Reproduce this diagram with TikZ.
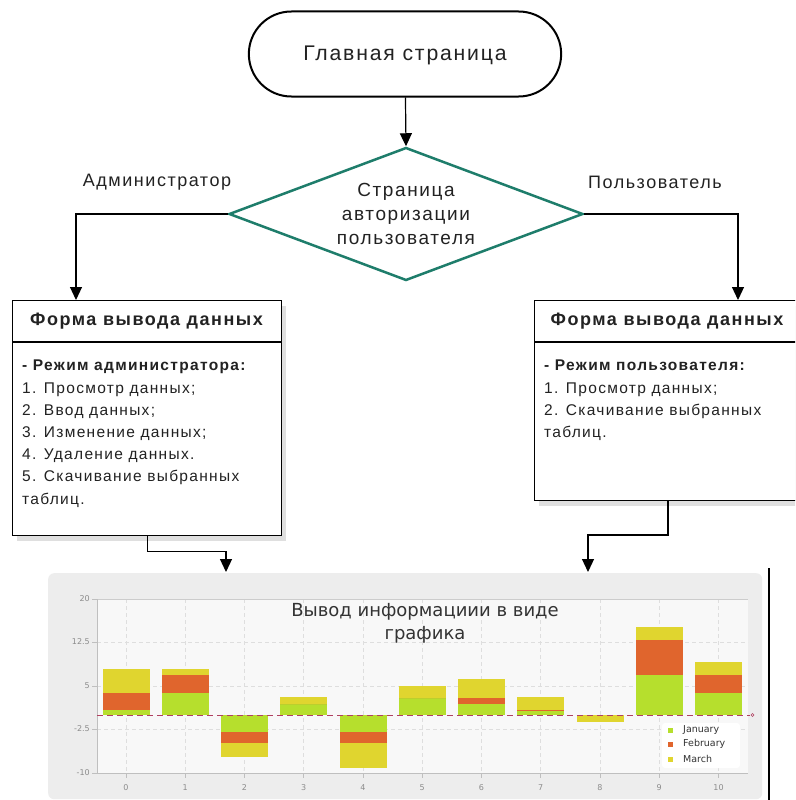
\documentclass[tikz,border=0pt]{standalone}
\usepackage{fontspec}
\setmainfont[LetterSpace=8.5]{Liberation Sans}
\newfontfamily\chartfont{DejaVu Sans}
\usetikzlibrary{arrows.meta,shapes.geometric,shapes.misc,shadows,calc}
\definecolor{tealc}{HTML}{1E7D6B}
\definecolor{jan}{HTML}{B6DF2D}
\definecolor{feb}{HTML}{E0652D}
\definecolor{mar}{HTML}{E0D52F}
\definecolor{chartbg}{HTML}{EDEDED}
\definecolor{plotbg}{HTML}{F8F8F8}
\definecolor{zeroc}{HTML}{B04060}
\definecolor{txt}{HTML}{222222}
\tikzset{
  arr/.style={line width=1.2pt,-{Triangle[width=12pt,length=13pt]}},
  formbox/.style={draw,line width=1.4pt,fill=white,rectangle,anchor=north west,
    drop shadow={shadow xshift=4pt,shadow yshift=-5pt,opacity=0.25}},
  lbl/.style={font=\fontsize{18}{20}\selectfont,text=txt},
  ftitle/.style={font=\bfseries\fontsize{18}{20}\selectfont,text=txt},
  fbody/.style={font=\fontsize{15.5}{22.2}\selectfont,text=txt,align=left,anchor=north west,inner sep=0pt},
  ylab/.style={font=\chartfont\fontsize{8}{9}\selectfont,text=black!45,anchor=east,inner sep=0pt},
  xlab/.style={font=\chartfont\fontsize{8}{9}\selectfont,text=black!45,inner sep=0pt},
  leg/.style={font=\chartfont\fontsize{9.5}{11}\selectfont,text=black!80,anchor=west,inner sep=0pt},
  gridl/.style={black!13,line width=0.6pt,dash pattern=on 4pt off 3pt},
}
\begin{document}
\begin{tikzpicture}[x=1pt,y=-1pt]
\clip (0,0) rectangle (795,800);
\useasboundingbox (0,0) rectangle (795,800);
\fill[white] (0,0) rectangle (795,800);

% terminal
\node[draw,line width=2pt,rounded rectangle,minimum width=319pt,minimum height=85pt,
  font=\fontsize{21.2}{24}\selectfont,text=txt,text depth=2pt] (main) at (405,54) {Главная страница};

% decision
\node[draw=tealc,line width=2.5pt,diamond,aspect=2.66,inner sep=0pt,
  minimum width=354pt,minimum height=133pt,align=center,
  font=\fontsize{19}{24}\selectfont,text=txt] (diam) at (406,214)
  {Страница\\авторизации\\пользователя};

\node[lbl] (ladm) at (157,182) {Администратор};
\node[lbl] (lusr) at (655,182) {Пользователь};

% left form
\node[formbox,minimum width=269pt,minimum height=235pt] (lbox) at (12,300) {};
\draw[line width=1.2pt] ($(lbox.north west)+(0,42)$) coordinate (ld1) -- (ld1 -| lbox.east);
\node[ftitle] (lt) at (146.5,321) {Форма вывода данных};
\node[fbody] (lb) at (22,360) {\textbf{- Режим администратора:}\\1. Просмотр данных;\\2. Ввод данных;\\3. Изменение данных;\\4. Удаление данных.\\5. Скачивание выбранных\\таблиц.};

% right form
\node[formbox,minimum width=269pt,minimum height=200pt] (rbox) at (534,300) {};
\draw[line width=1.2pt] ($(rbox.north west)+(0,42)$) coordinate (rd1) -- (rd1 -| rbox.east);
\node[ftitle] (rt) at (667,321) {Форма вывода данных};
\node[fbody] (rb) at (544,360) {\textbf{- Режим пользователя:}\\1. Просмотр данных;\\2. Скачивание выбранных\\таблиц.};

% chart
\node[fill=chartbg,rounded corners=6pt,minimum width=714pt,minimum height=226pt,
  anchor=north west,inner sep=0pt] (chart) at (48,573) {};
\fill[plotbg] (97,599) rectangle (748,773);
\foreach \yy in {642,686,729} \draw[gridl] (97,\yy) -- (748,\yy);
\foreach \i in {0,...,10} {
  \pgfmathsetmacro\xc{126+59.25*\i}
  \draw[gridl] (\xc,599) -- (\xc,773);
  \draw[black!25,line width=0.8pt] (\xc,773) -- (\xc,778);
  \node[xlab] at (\xc,788) {\i};
}
\draw[black!20,line width=0.8pt] (97,599) -- (748,599);
\draw[black!25,line width=1pt] (97,599) -- (97,773) -- (748,773);
\foreach \yy/\t in {599/20,642/12.5,686/5,729/-2.5,773/-10} {
  \draw[black!25,line width=0.8pt] (92,\yy) -- (97,\yy);
  \node[ylab] at (90,\yy) {\t};
}
\foreach \i/\ya/\yb/\yc in {0/710/692.7/669, 1/692.7/675/669, 2/731.7/743/756.7,
  3/704.3/704.3/697.3, 4/731.7/743/768, 5/698/698/686, 6/704.3/697.7/679.3,
  7/711/710/697.3, 8/715/715/722.3, 9/675.3/640.3/627.3, 10/692.7/675/662.3} {
  \pgfmathsetmacro\xa{126+59.25*\i-23.5}
  \pgfmathsetmacro\xb{126+59.25*\i+23.5}
  \fill[jan] (\xa,715) rectangle (\xb,\ya);
  \fill[feb] (\xa,\ya) rectangle (\xb,\yb);
  \fill[mar] (\xa,\yb) rectangle (\xb,\yc);
}
\draw[zeroc,line width=1pt,dash pattern=on 6pt off 4pt] (97,715) -- (750,715);
\draw[zeroc,line width=0.6pt] (752.5,715) circle (1.5pt);
\node[align=center,font=\chartfont\fontsize{18}{23}\selectfont,text=black!80] (ctitle) at (425,623)
  {Вывод информациии в виде\\графика};
\fill[white,rounded corners=3pt] (662,723) rectangle (740,768);
\foreach \yy/\c/\t in {730/jan/January,744/feb/February,759/mar/March} {
  \fill[\c] (668,\yy-2.5) rectangle (673,\yy+2.5);
  \node[leg] at (683,\yy) {\t};
}
\draw[line width=1.3pt] (769,568) -- (769,800);

% connectors
\coordinate (la) at (76,300);
\coordinate (ra) at (738,300);
\draw[arr] (main) -- (diam.north);
\draw[arr] (diam.west) -| (la);
\draw[arr] (diam.east) -| (ra);
\coordinate (lc) at (226,572);
\coordinate (rc) at (588,572);
\draw[arr] (lbox.south) -- ++(0,15) -| (lc);
\draw[arr] (668,500) -- (668,535) -| (rc);
\end{tikzpicture}
\end{document}
